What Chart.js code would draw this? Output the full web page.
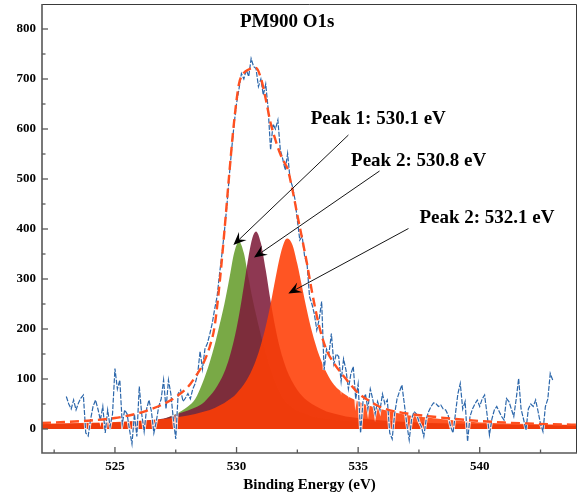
<!DOCTYPE html>
<html>
<head>
<meta charset="utf-8">
<script src="https://cdn.jsdelivr.net/npm/chart.js@4.4.1/dist/chart.umd.min.js"></script>
<style>
html,body{margin:0;padding:0;background:#fff;}
#wrap{width:579px;height:499px;}
</style>
</head>
<body>
<div id="wrap"><canvas id="c" width="579" height="499"></canvas></div>
<script>
// O1s spectrum of PM900: raw counts, fitted envelope and three component peaks

// Raw spectrum, sampled every 0.1 eV from 523.0 eV
const energyStart = 523.0;
const energyStep = 0.1;
const rawCounts = [
  65, 50, 40, 58, 38, 52, 62, 68, -8, -14,
  20, 45, 58, 40, 18, 45, -8, 38, 5, 30,
  121, 80, 98, 10, 38, 30, -2, -30, 30, -15,
  85, 30, -5, 40, 58, 35, -8, 15, 45, 60,
  98, 40, 98, 70, 20, -20, 71, 78, 55, 62,
  71, 60, 80, 91, 110, 155, 120, 160, 171, 190,
  211, 240, 265, 310, 350, 395, 445, 505, 560, 610,
  651, 680, 711, 700, 718, 705, 741, 725, 721, 685,
  700, 668, 690, 640, 558, 610, 600, 618, 558, 540,
  518, 551, 500, 485, 460, 418, 378, 385, 345, 330,
  265, 250, 230, 198, 220, 255, 118, 160, 150, 191,
  130, 150, 145, 95, 140, 118, 80, 110, 125, 60,
  90, -8, 55, 70, 40, 80, 60, 30, 55, 38,
  70, 50, 58, -8, -20, 30, 60, 75, 88, 50,
  10, -22, 20, 35, 30, 15, 5, -15, 20, 35,
  45, 52, 51, 45, 48, 40, 38, 28, 5, -8,
  30, 70, 91, 40, 55, -25, 25, 40, 50, 58,
  45, 60, 68, 30, -12, 20, 38, 45, 35, 25,
  18, 61, 55, 40, 25, 60, 101, 40, 20, -2,
  40, 50, 45, 58, 35, 10, -5, 45, 60, 111,
  98
];

// Energies at which the fitted curves are tabulated
const fitEnergy = [
  522, 523, 524, 525, 526, 526.5, 527, 527.5, 528, 528.3,
  528.6, 528.9, 529.1, 529.3, 529.5, 529.7, 529.9, 530.1, 530.3, 530.5,
  530.65, 530.8, 531.0, 531.2, 531.4, 531.6, 531.8, 532.0, 532.1, 532.3,
  532.5, 532.7, 532.9, 533.1, 533.4, 533.7, 534.0, 534.5, 535, 535.5,
  536, 537, 538, 539, 540, 541, 542, 543, 544
];
// Peak 1 (530.1 eV)
const peak1 = [
  8.5, 9.5, 10.5, 12, 15, 17, 20, 30, 45, 60,
  92, 134, 168, 208, 250, 300, 352, 375, 352, 300,
  262, 229, 188, 151, 120, 92, 70, 55, 50, 42,
  36, 32, 29, 25, 22, 20, 18, 16, 14, 13,
  12, 11, 10, 8.5, 8, 7.5, 7.5, 7, 7
];
// Peak 2 (530.8 eV)
const peak2 = [
  9.5, 10.5, 11.5, 13, 16, 18, 21, 29, 37, 43,
  51, 66, 78, 94, 114, 142, 179, 227, 286, 347,
  382, 395, 372, 318, 256, 202, 159, 127, 114, 94,
  78, 66, 57, 50, 42, 35, 31, 25, 22, 19,
  17, 14, 12, 11, 10, 9, 8, 8, 7.5
];
// Peak 3 (532.1 eV)
const peak3 = [
  10.5, 11.5, 12.5, 14, 16.5, 18, 20, 23, 27, 30,
  34, 38, 42, 47, 52, 59, 66, 77, 89, 105,
  120, 138, 168, 205, 250, 301, 348, 378, 381, 368,
  330, 283, 236, 195, 147, 113, 89, 68, 55, 46,
  39, 28, 22, 17, 13, 11, 10, 9, 8
];
// Fitted envelope
const fitTotal = [
  12, 14, 17, 22, 32, 40, 50, 64, 84, 104,
  128, 165, 206, 290, 395, 510, 615, 690, 712, 719,
  722, 722, 702, 660, 612, 578, 550, 530, 520, 478,
  428, 380, 330, 275, 205, 158, 132, 100, 72, 55,
  42, 31, 25, 20, 16, 13, 11, 9.5, 8.5
];

// Axis ticks
const xTickValues = [522.5, 525, 527.5, 530, 532.5, 535, 537.5, 540, 542.5];
const yTickValues = [0, 50, 100, 150, 200, 250, 300, 350, 400, 450, 500, 550, 600, 650, 700, 750, 800];

// Text annotations
const chartTitle = 'PM900 O1s';
const peakLabels = ['Peak 1: 530.1 eV', 'Peak 2: 530.8 eV', 'Peak 2: 532.1 eV'];

const SERIF = '"Liberation Serif", "Times New Roman", Times, serif';

const pts = (xs, ys) => xs.map((x, i) => ({ x: x, y: ys[i] }));
const rawPoints = rawCounts.map((v, i) => ({ x: energyStart + i * energyStep, y: v }));

const decor = {
  id: 'decor',
  afterDatasetsDraw(chart) {
    const { ctx, chartArea: a, scales } = chart;
    const xs = scales.x, ys = scales.y;
    const X = v => xs.getPixelForValue(v);
    const Y = v => ys.getPixelForValue(v);
    ctx.save();

    // frame
    ctx.lineCap = 'butt';
    ctx.strokeStyle = '#3a3a3a';
    ctx.lineWidth = 1;
    ctx.beginPath();
    ctx.moveTo(a.left, a.top + 0.5); ctx.lineTo(a.right - 0.5, a.top + 0.5);
    ctx.lineTo(a.right - 0.5, a.bottom);
    ctx.stroke();
    ctx.strokeStyle = '#585858';
    ctx.lineWidth = 1.6;
    ctx.beginPath();
    ctx.moveTo(a.left, a.top); ctx.lineTo(a.left, a.bottom); ctx.lineTo(a.right, a.bottom);
    ctx.stroke();

    // inward tick marks
    ctx.lineWidth = 1.3;
    xTickValues.forEach(v => {
      const px = X(v);
      const len = (v % 5 === 0) ? 6 : 3.5;
      ctx.beginPath(); ctx.moveTo(px, a.bottom); ctx.lineTo(px, a.bottom - len); ctx.stroke();
    });
    yTickValues.forEach(v => {
      const py = Y(v);
      const len = (v % 100 === 0) ? 6 : 3.5;
      ctx.beginPath(); ctx.moveTo(a.left, py); ctx.lineTo(a.left + len, py); ctx.stroke();
    });

    // arrows pointing at each component
    const arrows = [
      [[534.6, 588], [529.87, 368]],
      [[535.88, 516], [530.72, 343]],
      [[537.07, 401], [532.13, 271]]
    ];
    ctx.strokeStyle = '#151515';
    ctx.fillStyle = '#000';
    ctx.lineWidth = 1;
    arrows.forEach(([s, t]) => {
      const sx = X(s[0]), sy = Y(s[1]), tx = X(t[0]), ty = Y(t[1]);
      const dx = tx - sx, dy = ty - sy, d = Math.hypot(dx, dy);
      const ux = dx / d, uy = dy / d, nx = -uy, ny = ux;
      const L = 13, W = 5.5, N = 8;
      ctx.beginPath();
      ctx.moveTo(sx, sy); ctx.lineTo(tx - ux * N, ty - uy * N);
      ctx.stroke();
      ctx.beginPath();
      ctx.moveTo(tx, ty);
      ctx.lineTo(tx - ux * L + nx * W, ty - uy * L + ny * W);
      ctx.lineTo(tx - ux * N, ty - uy * N);
      ctx.lineTo(tx - ux * L - nx * W, ty - uy * L - ny * W);
      ctx.closePath();
      ctx.fill();
    });

    // title and labels
    ctx.fillStyle = '#000';
    ctx.font = 'bold 19px ' + SERIF;
    ctx.textBaseline = 'alphabetic';
    ctx.textAlign = 'center';
    ctx.fillText(chartTitle, X(532.08), Y(804.6));
    ctx.textAlign = 'left';
    const labelAt = [[533.05, 609.4], [534.71, 526], [537.52, 412.6]];
    peakLabels.forEach((t, i) => ctx.fillText(t, X(labelAt[i][0]), Y(labelAt[i][1])));
    ctx.restore();
  }
};

new Chart(document.getElementById('c'), {
  type: 'line',
  data: {
    datasets: [
      { label: 'Fit', data: pts(fitEnergy, fitTotal), borderColor: '#ff5020', borderWidth: 2.4,
        borderDash: [9, 5], pointRadius: 0, fill: false, cubicInterpolationMode: 'monotone', order: 0 },
      { label: 'Raw', data: rawPoints, borderColor: '#2c67ab', borderWidth: 1.2,
        borderDash: [5, 1.5], pointRadius: 0, fill: false, tension: 0, order: 1 },
      { label: 'Raw halo', data: rawPoints, borderColor: 'rgba(255,255,255,0.85)', borderWidth: 2.8,
        pointRadius: 0, fill: false, tension: 0, order: 2 },
      { label: 'Peak 3', data: pts(fitEnergy, peak3), borderColor: 'rgba(0,0,0,0)', borderWidth: 0,
        backgroundColor: 'rgba(255,62,4,0.88)', pointRadius: 0, fill: 'origin', cubicInterpolationMode: 'monotone', order: 3 },
      { label: 'Peak 2', data: pts(fitEnergy, peak2), borderColor: 'rgba(0,0,0,0)', borderWidth: 0,
        backgroundColor: 'rgba(126,28,58,0.88)', pointRadius: 0, fill: 'origin', cubicInterpolationMode: 'monotone', order: 4 },
      { label: 'Peak 1', data: pts(fitEnergy, peak1), borderColor: 'rgba(0,0,0,0)', borderWidth: 0,
        backgroundColor: 'rgba(116,166,62,0.96)', pointRadius: 0, fill: 'origin', cubicInterpolationMode: 'monotone', order: 5 }
    ]
  },
  options: {
    responsive: false,
    animation: false,
    devicePixelRatio: 1,
    layout: { padding: { top: 4, right: 2, left: 0, bottom: 0 } },
    plugins: { legend: { display: false }, tooltip: { enabled: false } },
    scales: {
      x: {
        type: 'linear', min: 522, max: 544,
        grid: { display: false, drawTicks: false }, border: { display: false },
        afterBuildTicks: s => { s.ticks = xTickValues.map(v => ({ value: v })); },
        afterFit: s => { s.height = 46; s.paddingLeft = 0; s.paddingRight = 0; },
        ticks: {
          autoSkip: false, maxRotation: 0, padding: 6, color: '#000',
          font: { family: SERIF, size: 13, weight: 'bold' },
          callback: v => (v % 5 === 0 ? String(v) : '')
        },
        title: {
          display: true, text: 'Binding Energy (eV)', color: '#000',
          font: { family: SERIF, size: 15, weight: 'bold' },
          padding: { top: 0, bottom: 5 }
        }
      },
      y: {
        type: 'linear', min: -48, max: 850,
        grid: { display: false, drawTicks: false }, border: { display: false },
        afterBuildTicks: s => { s.ticks = yTickValues.map(v => ({ value: v })); },
        afterFit: s => { s.width = 42; s.paddingTop = 0; s.paddingBottom = 0; },
        ticks: {
          autoSkip: false, padding: 6, color: '#000',
          font: { family: SERIF, size: 13, weight: 'bold' },
          callback: v => (v % 100 === 0 ? String(v) : '')
        }
      }
    }
  },
  plugins: [decor]
});
</script>
</body>
</html>
